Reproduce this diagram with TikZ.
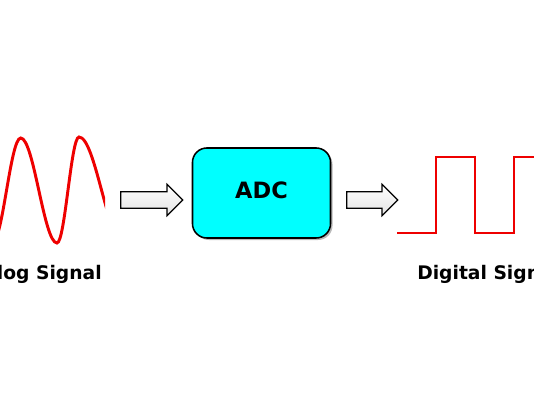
\documentclass[tikz,border=0pt]{standalone}
\usepackage{fontspec}
\setmainfont{DejaVu Sans}
\usetikzlibrary{shapes.arrows,shadows}
\definecolor{adccyan}{RGB}{0,255,255}
\definecolor{sigred}{RGB}{238,0,0}

\begin{document}
\begin{tikzpicture}[
    x=0.025cm, y=-0.025cm,
    adcbox/.style={rectangle, draw, line width=1.1pt, rounded corners=0.36cm, fill=adccyan, minimum width=3.45cm, minimum height=2.25cm, text depth=0.15cm, font=\fontsize{16}{19}\selectfont\bfseries, drop shadow={shadow xshift=0.05cm, shadow yshift=-0.05cm, fill=black!55}},
    flow/.style={single arrow, draw, line width=0.9pt, top color=white, bottom color=gray!22, inner sep=0pt, inner ysep=0.1875cm, text height=0pt, text depth=0pt, single arrow head extend=0.1875cm, minimum width=0.75cm, anchor=tail},
    sigtext/.style={font=\fontsize{13.3}{16}\selectfont\bfseries, inner sep=0pt},
    signal/.style={sigred, line width=2.1pt}
]
    \useasboundingbox (0,0) rectangle (534,400);
    \clip (0,0) rectangle (534,400);

    \begin{scope}
        \clip (0,0) rectangle (105,400);
        \draw[signal] (-7.7,243) .. controls (2.6,243) and (10.4,138) .. (20.7,138)
            .. controls (33.9,138) and (43.8,243) .. (57,243)
            .. controls (65,243) and (71,137) .. (79,137)
            .. controls (95.4,137) and (107.6,243) .. (124,243);
    \end{scope}
    \node[sigtext, anchor=base east] (analog) at (102,280) {Analog Signal};

    \node[flow, minimum height=1.55cm] (inarrow) at (120,200) {};
    \node[adcbox] (adc) at (261.5,193) {ADC};
    \node[flow, minimum height=1.275cm] (outarrow) at (346,200) {};

    \draw[signal] (397,233) -- (436,233) -- (436,157) -- (475,157) -- (475,233) -- (514,233) -- (514,157) -- (545,157);
    \node[sigtext, anchor=base west] (digital) at (417,280) {Digital Signal};
\end{tikzpicture}
\end{document}
